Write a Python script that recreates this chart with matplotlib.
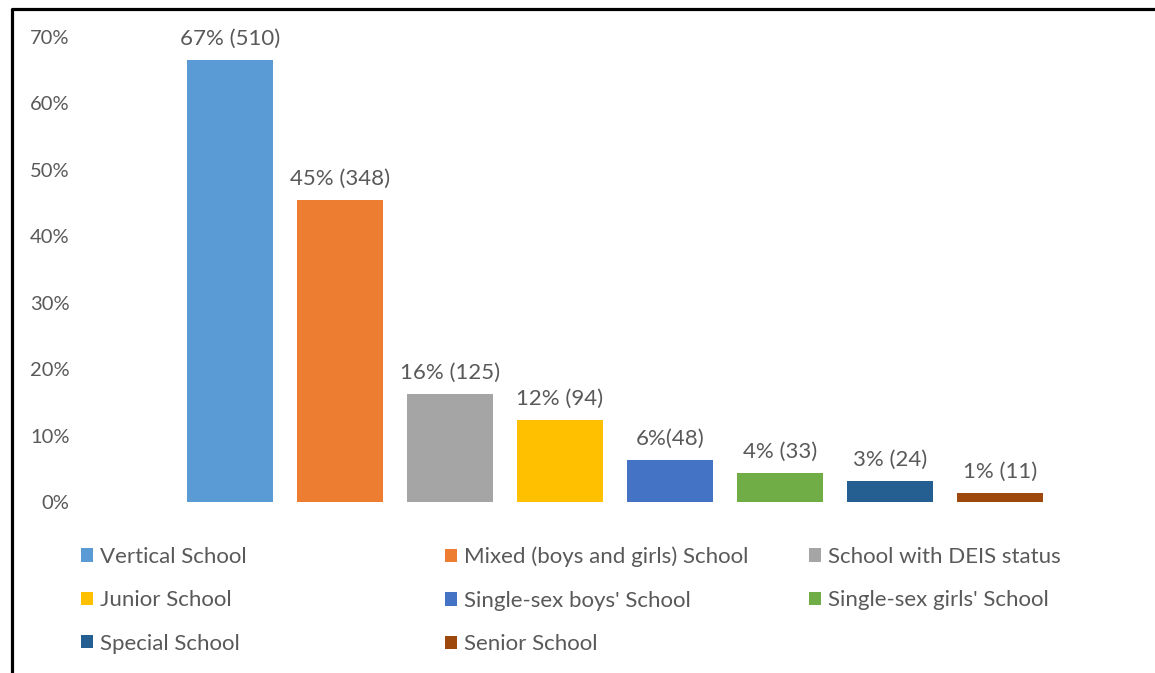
import matplotlib
matplotlib.use("Agg")
import matplotlib.pyplot as plt
from matplotlib.patches import Patch
from matplotlib.lines import Line2D

# data
categories = ["Vertical School", "Mixed (boys and girls) School", "School with DEIS status",
              "Junior School", "Single-sex boys' School", "Single-sex girls' School",
              "Special School", "Senior School"]
percents = [66.6, 45.4, 16.3, 12.3, 6.3, 4.3, 3.1, 1.4]
bar_labels = ["67% (510)", "45% (348)", "16% (125)", "12% (94)", "6%(48)",
              "4% (33)", "3% (24)", "1% (11)"]
colors = ["#5B9BD5", "#ED7D31", "#A5A5A5", "#FFC000", "#4472C4", "#70AD47",
          "#255E91", "#9E480E"]
yticks = [0, 10, 20, 30, 40, 50, 60, 70]

plt.rcParams['font.family'] = ['Lato', 'DejaVu Sans']
text_col = "#595959"

W, H = 1155, 673
fig = plt.figure(figsize=(W / 100, H / 100), dpi=100)

# axes placed in pixel terms
left_px, right_px, top_px, bot_px = 75, 1110, 37, 502
ax = fig.add_axes([left_px / W, 1 - bot_px / H, (right_px - left_px) / W, (bot_px - top_px) / H])

x = list(range(len(categories)))
bars = ax.bar(x, percents, width=0.78, color=colors)
ax.bar_label(bars, labels=bar_labels, padding=8, fontsize=16, color=text_col)

ax.set_ylim(0, 70)
ax.set_xlim((left_px - 230) / 110, (right_px - 230) / 110)
ax.set_yticks(yticks)
ax.set_yticklabels([f"{t}%" for t in yticks], fontsize=14.5, color=text_col)
ax.set_xticks([])
ax.tick_params(axis="y", length=0, pad=4)
for s in ax.spines.values():
    s.set_visible(False)

# legend, row-major like the original: three single-column legends
col_x = [72, 436, 800]
for c in range(3):
    idx = [i for i in range(c, len(categories), 3)]
    handles = [Patch(facecolor=colors[i], edgecolor="none") for i in idx]
    labels = [categories[i] for i in idx]
    fig.legend(handles, labels, loc="upper left", bbox_to_anchor=(col_x[c] / W, 1 - 538 / H),
               frameon=False, fontsize=16, labelcolor=text_col, handlelength=0.55,
               handleheight=0.55, handletextpad=0.3, labelspacing=1.05, borderaxespad=0)

# border of the cropped screenshot frame
fig.add_artist(Line2D([12 / W, 12 / W, 1], [0, 1 - 9 / H, 1 - 9 / H],
                      transform=fig.transFigure, color="black", lw=2.3))

fig.savefig("out.png", dpi=100)
